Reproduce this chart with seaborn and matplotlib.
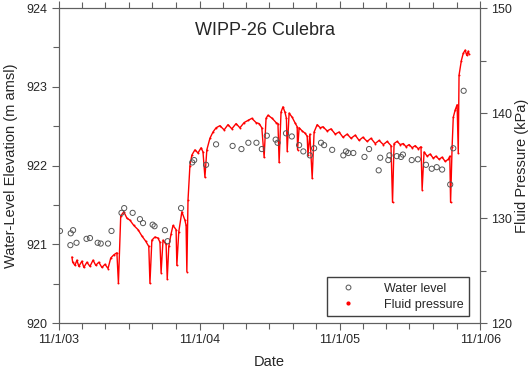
import pandas as pd
import matplotlib
matplotlib.use("Agg")
import matplotlib.pyplot as plt
import matplotlib.dates as mdates
from matplotlib.lines import Line2D
import seaborn as sns

# water level measurements (m amsl)
wl_dates = ["2003-11-04", "2003-12-01", "2003-12-02", "2003-12-08", "2003-12-17",
            "2004-01-12", "2004-01-21", "2004-02-10", "2004-02-18", "2004-03-08",
            "2004-03-17", "2004-04-12", "2004-04-19", "2004-05-11", "2004-05-30",
            "2004-06-07", "2004-07-02", "2004-07-07", "2004-08-03", "2004-08-10",
            "2004-09-14", "2004-10-13", "2004-10-18", "2004-11-18", "2004-12-14",
            "2005-01-26", "2005-02-18", "2005-03-08", "2005-03-29", "2005-04-12",
            "2005-04-25", "2005-05-18", "2005-05-23", "2005-06-14", "2005-06-29",
            "2005-07-18", "2005-07-29", "2005-08-15", "2005-08-26", "2005-09-13",
            "2005-09-21", "2005-10-12", "2005-11-10", "2005-11-17", "2005-11-23",
            "2005-12-06", "2006-01-04", "2006-01-16", "2006-02-10", "2006-02-14",
            "2006-03-07", "2006-03-10", "2006-03-29", "2006-04-09", "2006-04-14",
            "2006-05-07", "2006-05-23", "2006-06-13", "2006-06-28", "2006-07-11",
            "2006-07-25", "2006-08-15", "2006-08-23", "2006-09-19"]
wl_values = [921.17, 920.99, 921.14, 921.18, 921.02,
             921.07, 921.08, 921.02, 921.01, 921.01,
             921.17, 921.40, 921.46, 921.40, 921.32,
             921.27, 921.25, 921.23, 921.18, 921.04,
             921.46, 922.04, 922.07, 922.01, 922.27,
             922.25, 922.21, 922.29, 922.29, 922.21,
             922.38, 922.33, 922.29, 922.41, 922.37,
             922.26, 922.18, 922.13, 922.22, 922.29,
             922.26, 922.20, 922.13, 922.18, 922.16,
             922.16, 922.11, 922.21, 921.94, 922.10,
             922.07, 922.13, 922.12, 922.11, 922.14,
             922.07, 922.08, 922.01, 921.96, 921.98,
             921.95, 921.76, 922.22, 922.95]

# transducer fluid pressure (kPa)
fp_dates = ["2003-12-05", "2003-12-07", "2003-12-13", "2003-12-18", "2003-12-23",
            "2003-12-31", "2004-01-05", "2004-01-13", "2004-01-21", "2004-01-29",
            "2004-02-05", "2004-02-13", "2004-02-21", "2004-02-29", "2004-03-08",
            "2004-03-15", "2004-03-23", "2004-03-31", "2004-04-04", "2004-04-10",
            "2004-04-18", "2004-04-26", "2004-05-04", "2004-05-14", "2004-05-25",
            "2004-06-04", "2004-06-14", "2004-06-22", "2004-06-25", "2004-06-30",
            "2004-07-08", "2004-07-16", "2004-07-21", "2004-07-24", "2004-07-29",
            "2004-08-06", "2004-08-09", "2004-08-13", "2004-08-19", "2004-08-24",
            "2004-09-01", "2004-09-03", "2004-09-08", "2004-09-16", "2004-09-24",
            "2004-09-27", "2004-09-29", "2004-10-02", "2004-10-07", "2004-10-12",
            "2004-10-20", "2004-10-28", "2004-11-05", "2004-11-10", "2004-11-15",
            "2004-11-20", "2004-11-28", "2004-12-06", "2004-12-14", "2004-12-24",
            "2005-01-04", "2005-01-14", "2005-01-24", "2005-02-04", "2005-02-14",
            "2005-02-25", "2005-03-07", "2005-03-17", "2005-03-28", "2005-04-05",
            "2005-04-12", "2005-04-18", "2005-04-23", "2005-04-28", "2005-05-09",
            "2005-05-19", "2005-05-24", "2005-05-27", "2005-06-01", "2005-06-06",
            "2005-06-11", "2005-06-15", "2005-06-17", "2005-06-22", "2005-06-30",
            "2005-07-07", "2005-07-13", "2005-07-14", "2005-07-18", "2005-07-26",
            "2005-08-02", "2005-08-08", "2005-08-10", "2005-08-15", "2005-08-21",
            "2005-08-26", "2005-09-03", "2005-09-11", "2005-09-18", "2005-09-29",
            "2005-10-09", "2005-10-20", "2005-10-30", "2005-11-09", "2005-11-20",
            "2005-11-30", "2005-12-11", "2005-12-21", "2005-12-31", "2006-01-11",
            "2006-01-21", "2006-02-01", "2006-02-11", "2006-02-22", "2006-03-04",
            "2006-03-14", "2006-03-18", "2006-03-22", "2006-03-30", "2006-04-07",
            "2006-04-15", "2006-04-22", "2006-04-30", "2006-05-08", "2006-05-16",
            "2006-05-24", "2006-05-31", "2006-06-03", "2006-06-08", "2006-06-16",
            "2006-06-24", "2006-07-02", "2006-07-09", "2006-07-17", "2006-07-25",
            "2006-08-02", "2006-08-10", "2006-08-14", "2006-08-16", "2006-08-20",
            "2006-08-23", "2006-08-28", "2006-09-02", "2006-09-05", "2006-09-07",
            "2006-09-13", "2006-09-18", "2006-09-23", "2006-09-27", "2006-10-01",
            "2006-10-03"]
fp_values = [126.3, 125.8, 125.5, 126.0, 125.4,
             125.9, 125.3, 125.8, 125.4, 126.0,
             125.5, 125.8, 125.3, 125.6, 125.2,
             126.2, 126.5, 126.7, 123.8, 130.2,
             130.6, 130.0, 129.8, 129.3, 128.9,
             128.3, 127.8, 127.3, 123.8, 127.9,
             128.2, 128.1, 127.7, 124.8, 127.9,
             127.5, 124.2, 127.3, 128.5, 129.3,
             128.9, 125.5, 128.7, 130.6, 129.8,
             129.3, 124.9, 131.7, 135.0, 136.0,
             136.5, 136.2, 136.7, 136.3, 133.9,
             136.5, 137.6, 138.2, 138.6, 138.8,
             138.4, 138.9, 138.5, 139.0, 138.6,
             139.1, 139.3, 139.5, 139.1, 139.0,
             138.6, 135.8, 139.5, 139.8, 139.5,
             139.1, 139.0, 135.3, 140.1, 140.6,
             140.1, 139.5, 136.4, 140.0, 139.6,
             139.1, 138.7, 136.5, 138.6, 138.3,
             138.1, 137.8, 136.0, 138.0, 133.8,
             138.2, 138.9, 138.6, 138.7, 138.3,
             138.5, 138.0, 138.2, 137.7, 138.0,
             137.6, 137.9, 137.4, 137.7, 137.3,
             137.6, 137.1, 137.4, 137.0, 137.3,
             136.9, 131.5, 137.1, 137.3, 137.0,
             137.1, 136.8, 137.0, 136.7, 136.9,
             136.6, 136.8, 132.7, 136.3, 135.9,
             136.1, 135.7, 135.9, 135.6, 135.8,
             135.4, 135.6, 135.9, 131.5, 136.8,
             139.6, 140.3, 140.8, 136.2, 143.6,
             145.0, 145.7, 146.0, 145.5, 145.9,
             145.6]

wl = pd.DataFrame({"Date": pd.to_datetime(wl_dates), "Level": wl_values})
fp = pd.DataFrame({"Date": pd.to_datetime(fp_dates), "Pressure": fp_values})

sns.set_style("ticks")
plt.rcParams["font.family"] = ["Liberation Sans", "DejaVu Sans"]

fig = plt.figure(figsize=(5.3, 3.68), dpi=100)
ax = fig.add_axes([0.111, 0.122, 0.795, 0.856])
ax2 = ax.twinx()

sns.lineplot(data=fp, x="Date", y="Pressure", ax=ax2, color="red", lw=1.0,
             marker="o", markersize=1.4, markeredgewidth=0, zorder=2)
sns.scatterplot(data=wl, x="Date", y="Level", ax=ax, s=14, facecolor="none",
                edgecolor="#555555", linewidth=0.7, zorder=3)
ax.set_zorder(ax2.get_zorder() + 1)
ax.patch.set_visible(False)

ax.set_xlim(pd.Timestamp("2003-11-01"), pd.Timestamp("2006-11-01"))
ax.set_ylim(920, 924)
ax2.set_ylim(120, 150)
ax.set_yticks([920, 921, 922, 923, 924])
ax.set_yticks([920.5, 921.5, 922.5, 923.5], minor=True)
ax2.set_yticks([120, 130, 140, 150])
ax2.set_yticks([125, 135, 145], minor=True)
ax.xaxis.set_major_locator(mdates.YearLocator(month=11, day=1))
ax.xaxis.set_minor_locator(mdates.MonthLocator(bymonth=[1, 3, 5, 7, 9, 11]))
ax.xaxis.set_major_formatter(mdates.DateFormatter("%-m/%-d/%y"))

for a in (ax, ax2):
    a.tick_params(which="both", direction="out", color="#606060", labelsize=9,
                  width=0.8, pad=3)
    a.tick_params(which="major", length=5)
    a.tick_params(which="minor", length=4)
    for sp in a.spines.values():
        sp.set_color("#606060")
        sp.set_linewidth(0.8)
ax.tick_params(which="both", top=True)

ax.set_xlabel("Date", fontsize=10.5, labelpad=6)
ax.set_ylabel("Water-Level Elevation (m amsl)", fontsize=10.5, labelpad=6)
ax2.set_ylabel("Fluid Pressure (kPa)", fontsize=10.5, labelpad=2)
ax.text(0.49, 0.93, "WIPP-26 Culebra", transform=ax.transAxes, ha="center",
        va="center", fontsize=13)

handles = [Line2D([], [], ls="none", marker="o", ms=3.5, mfc="none",
                  mec="#555555", mew=0.7),
           Line2D([], [], ls="none", marker="o", ms=2, mfc="red", mec="red")]
ax.legend(handles, ["Water level", "Fluid pressure"], loc="lower right",
          bbox_to_anchor=(0.974, 0.022), borderaxespad=0, fontsize=9,
          frameon=True, fancybox=False, edgecolor="#404040", framealpha=1,
          handletextpad=1.6, borderpad=0.45, labelspacing=0.3, handlelength=2.5)

fig.savefig("out.png", dpi=100)
